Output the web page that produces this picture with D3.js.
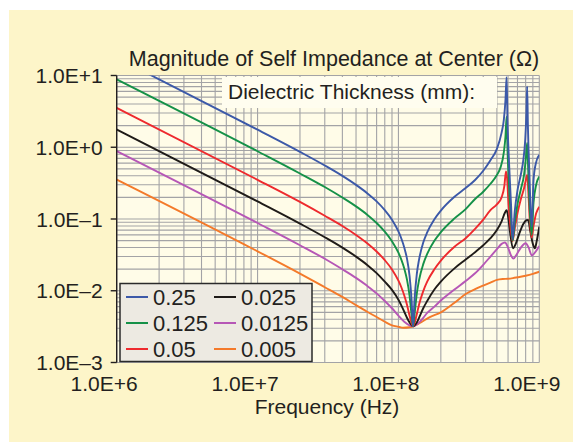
<!DOCTYPE html>
<html>
<head>
<meta charset="utf-8">
<script src="https://cdn.jsdelivr.net/npm/d3@7"></script>
<style>
  html, body { margin: 0; padding: 0; background: #ffffff; }
  svg { display: block; }
  text { font-family: "Liberation Sans", Arial, Helvetica, sans-serif; fill: #231f20; }
</style>
</head>
<body>
<div id="chart"></div>
<script>
// legend labels (dielectric thickness, mm)
const seriesNames = ["0.25", "0.125", "0.05", "0.025", "0.0125", "0.005"];

// frequency (Hz) / |Z| (ohm)
const f_025 = [1e6, 1e7, 2e7, 3e7, 4e7, 5e7, 6e7, 7e7, 8e7, 9e7, 1e8, 1.05e8, 1.1e8, 1.15e8, 1.2e8, 1.24e8, 1.27e8, 1.3e8, 1.35e8, 1.4e8, 1.5e8, 1.6e8, 1.8e8, 2e8, 2.5e8, 3e8, 3.5e8, 4e8, 4.5e8, 5e8, 5.4e8, 5.6e8, 5.75e8, 5.86e8, 5.95e8, 6.1e8, 6.3e8, 6.46e8, 6.7e8, 7.0e8, 7.4e8, 7.7e8, 7.95e8, 8.1e8, 8.2e8, 8.3e8, 8.5e8, 8.82e8, 9.1e8, 9.5e8, 1e9];
const z_025 = [17.7, 1.76, 0.863, 0.557, 0.399, 0.299, 0.229, 0.176, 0.133, 0.098, 0.067, 0.053, 0.040, 0.028, 0.016, 0.0074, 0.0032, 0.0073, 0.017, 0.027, 0.047, 0.065, 0.099, 0.131, 0.204, 0.27, 0.35, 0.47, 0.66, 0.95, 1.6, 2.4, 4.5, 9.5, 2.2, 0.6, 0.16, 0.052, 0.13, 0.25, 0.42, 0.66, 1.3, 3.0, 7.0, 2.0, 0.45, 0.078, 0.35, 0.62, 0.78];

const f_0125 = [1e6, 1e7, 2e7, 3e7, 4e7, 5e7, 6e7, 7e7, 8e7, 9e7, 1e8, 1.05e8, 1.1e8, 1.15e8, 1.2e8, 1.24e8, 1.27e8, 1.3e8, 1.35e8, 1.4e8, 1.5e8, 1.6e8, 1.8e8, 2e8, 2.5e8, 3e8, 3.5e8, 4e8, 4.5e8, 5e8, 5.3e8, 5.6e8, 5.75e8, 5.86e8, 5.95e8, 6.1e8, 6.3e8, 6.46e8, 6.7e8, 7.0e8, 7.4e8, 7.8e8, 8.05e8, 8.2e8, 8.35e8, 8.55e8, 8.82e8, 9.1e8, 9.5e8, 1e9];
const z_0125 = [8.85, 0.88, 0.431, 0.279, 0.199, 0.150, 0.115, 0.088, 0.0667, 0.049, 0.0339, 0.0269, 0.0204, 0.0143, 0.0085, 0.0046, 0.0032, 0.0046, 0.0091, 0.014, 0.0235, 0.0327, 0.0497, 0.0656, 0.102, 0.137, 0.19, 0.24, 0.31, 0.41, 0.52, 0.85, 1.4, 2.67, 0.9, 0.28, 0.1, 0.05, 0.09, 0.16, 0.26, 0.42, 0.75, 1.15, 0.45, 0.14, 0.06, 0.17, 0.3, 0.39];

const f_005 = [1e6, 1e7, 2e7, 3e7, 4e7, 5e7, 6e7, 7e7, 8e7, 9e7, 1e8, 1.05e8, 1.1e8, 1.15e8, 1.2e8, 1.27e8, 1.35e8, 1.4e8, 1.5e8, 1.6e8, 1.8e8, 2e8, 2.5e8, 3e8, 3.5e8, 4e8, 4.5e8, 5e8, 5.4e8, 5.65e8, 5.8e8, 5.9e8, 6.05e8, 6.25e8, 6.46e8, 6.7e8, 7.0e8, 7.4e8, 7.8e8, 8.05e8, 8.2e8, 8.35e8, 8.55e8, 8.82e8, 9.1e8, 9.5e8, 1e9];
const z_005 = [3.54, 0.352, 0.173, 0.111, 0.0798, 0.0598, 0.0458, 0.0352, 0.0267, 0.0198, 0.0138, 0.0111, 0.0086, 0.0064, 0.0045, 0.0032, 0.0047, 0.0064, 0.0099, 0.0134, 0.0199, 0.0263, 0.041, 0.054, 0.073, 0.098, 0.133, 0.16, 0.2, 0.29, 0.46, 0.38, 0.16, 0.075, 0.049, 0.075, 0.12, 0.19, 0.27, 0.36, 0.41, 0.25, 0.1, 0.055, 0.08, 0.12, 0.148];

const f_0025 = [1e6, 1e7, 2e7, 3e7, 4e7, 5e7, 6e7, 7e7, 8e7, 9e7, 1e8, 1.05e8, 1.1e8, 1.15e8, 1.2e8, 1.27e8, 1.35e8, 1.4e8, 1.5e8, 1.6e8, 1.8e8, 2e8, 2.5e8, 3e8, 3.5e8, 4e8, 4.5e8, 5e8, 5.4e8, 5.7e8, 5.86e8, 6.0e8, 6.2e8, 6.5e8, 6.8e8, 7.2e8, 7.7e8, 8.1e8, 8.35e8, 8.6e8, 9.0e8, 9.3e8, 9.6e8, 1e9];
const z_0025 = [1.77, 0.176, 0.0863, 0.0557, 0.0399, 0.0299, 0.0229, 0.0176, 0.0134, 0.0103, 0.0075, 0.0062, 0.0051, 0.0042, 0.0036, 0.0032, 0.0036, 0.0042, 0.0057, 0.0072, 0.0104, 0.0134, 0.0205, 0.0272, 0.0345, 0.043, 0.054, 0.07, 0.093, 0.122, 0.133, 0.11, 0.065, 0.039, 0.045, 0.062, 0.085, 0.096, 0.097, 0.07, 0.045, 0.039, 0.05, 0.078];

const f_00125 = [1e6, 1e7, 2e7, 3e7, 4e7, 5e7, 6e7, 7e7, 8e7, 9e7, 1e8, 1.1e8, 1.2e8, 1.27e8, 1.4e8, 1.5e8, 1.6e8, 1.8e8, 2e8, 2.5e8, 3e8, 3.5e8, 4e8, 4.5e8, 5e8, 5.4e8, 5.7e8, 6.0e8, 6.3e8, 6.55e8, 6.9e8, 7.4e8, 8.0e8, 8.4e8, 8.85e8, 9.3e8, 1e9];
const z_00125 = [0.885, 0.088, 0.0431, 0.0279, 0.0199, 0.0151, 0.0117, 0.0092, 0.0072, 0.0057, 0.0045, 0.0037, 0.0033, 0.0032, 0.0036, 0.0042, 0.0049, 0.006, 0.0073, 0.0104, 0.0137, 0.0175, 0.023, 0.03, 0.038, 0.045, 0.047, 0.04, 0.031, 0.028, 0.032, 0.04, 0.046, 0.04, 0.031, 0.034, 0.042];

const f_0005 = [1e6, 1e7, 2e7, 3e7, 4e7, 5e7, 6e7, 7e7, 8e7, 9e7, 1e8, 1.08e8, 1.2e8, 1.27e8, 1.4e8, 1.67e8, 2e8, 2.5e8, 3e8, 3.5e8, 4e8, 4.5e8, 5e8, 5.5e8, 6e8, 6.5e8, 7e8, 8e8, 9e8, 1e9];
const z_0005 = [0.354, 0.0354, 0.0173, 0.0112, 0.0082, 0.0063, 0.0051, 0.0043, 0.0037, 0.0033, 0.00315, 0.00305, 0.0031, 0.0032, 0.0035, 0.0043, 0.005, 0.0068, 0.009, 0.0105, 0.0118, 0.013, 0.0142, 0.0146, 0.0147, 0.015, 0.0154, 0.0162, 0.0172, 0.0184];

const seriesF = [f_025, f_0125, f_005, f_0025, f_00125, f_0005];
const seriesZ = [z_025, z_0125, z_005, z_0025, z_00125, z_0005];

const yTickValues = [1e-3, 1e-2, 1e-1, 1e0, 1e1];
const yTickLabels = ["1.0E\u20133", "1.0E\u20132", "1.0E\u20131", "1.0E+0", "1.0E+1"];
const xTickValues = [1e6, 1e7, 1e8, 1e9];
const xTickLabels = ["1.0E+6", "1.0E+7", "1.0E+8", "1.0E+9"];

const colors = ["#3c59a8", "#159148", "#ee2a2e", "#1f1b18", "#b657b6", "#f47a2a"];

const W = 573, H = 442;
const plot = { left: 116.7, right: 539.3, top: 75.5, bottom: 362.5 };

const svg = d3.select("#chart").append("svg")
    .attr("width", W)
    .attr("height", H);

// yellow panel
svg.append("rect")
    .attr("x", 9).attr("y", 10)
    .attr("width", W - 9).attr("height", H - 10)
    .attr("fill", "#fdf5c9");

const x = d3.scaleLog().domain([1e6, 1e9]).range([plot.left, plot.right]);
const y = d3.scaleLog().domain([1e-3, 1e1]).range([plot.bottom, plot.top]);

// plot background
svg.append("rect")
    .attr("x", plot.left).attr("y", plot.top)
    .attr("width", plot.right - plot.left).attr("height", plot.bottom - plot.top)
    .attr("fill", "#fffce8");

// grid
const grid = svg.append("g").attr("class", "grid");
grid.selectAll("line.v")
    .data(x.ticks())
    .join("line")
    .attr("class", "v")
    .attr("x1", d => x(d)).attr("x2", d => x(d))
    .attr("y1", plot.top).attr("y2", plot.bottom)
    .attr("stroke", "#a3a3a6").attr("stroke-width", 1.1);
grid.selectAll("line.h")
    .data(y.ticks())
    .join("line")
    .attr("class", "h")
    .attr("x1", plot.left).attr("x2", plot.right)
    .attr("y1", d => y(d)).attr("y2", d => y(d))
    .attr("stroke", "#a3a3a6").attr("stroke-width", 1.1);

// header box inside the plot
svg.append("rect")
    .attr("x", 222).attr("y", plot.top + 1.5)
    .attr("width", 275).attr("height", 31)
    .attr("fill", "#fffdef");
svg.append("text")
    .attr("x", 228).attr("y", 99)
    .style("font-size", "21px")
    .text("Dielectric Thickness (mm):");

// curves
svg.append("clipPath").attr("id", "clip")
    .append("rect")
    .attr("x", plot.left).attr("y", plot.top)
    .attr("width", plot.right - plot.left).attr("height", plot.bottom - plot.top);

const line = d3.line()
    .x(d => x(d[0]))
    .y(d => y(d[1]))
    .curve(d3.curveMonotoneX);

const curves = svg.append("g").attr("clip-path", "url(#clip)");
// draw thinnest first so the thick dielectric spikes sit on top
for (let i = seriesNames.length - 1; i >= 0; i--) {
    const pts = seriesF[i].map((f, j) => [f, seriesZ[i][j]]);
    curves.append("path")
        .attr("d", line(pts))
        .attr("fill", "none")
        .attr("stroke", colors[i])
        .attr("stroke-width", 1.9)
        .attr("stroke-linejoin", "round");
}

// left axis
svg.append("line")
    .attr("x1", plot.left).attr("x2", plot.left)
    .attr("y1", plot.top).attr("y2", plot.bottom)
    .attr("stroke", "#231f20").attr("stroke-width", 1.4);
svg.selectAll("line.ytick")
    .data(yTickValues)
    .join("line")
    .attr("class", "ytick")
    .attr("x1", plot.left - 6).attr("x2", plot.left)
    .attr("y1", d => y(d)).attr("y2", d => y(d))
    .attr("stroke", "#231f20").attr("stroke-width", 1.4);
svg.selectAll("text.ylab")
    .data(yTickValues)
    .join("text")
    .attr("class", "ylab")
    .attr("x", plot.left - 14)
    .attr("y", d => y(d) + 7.5)
    .attr("text-anchor", "end")
    .style("font-size", "21px")
    .text((d, i) => yTickLabels[i]);

svg.selectAll("text.xlab")
    .data(xTickValues)
    .join("text")
    .attr("class", "xlab")
    .attr("x", d => x(d) - 12.5)
    .attr("y", 391)
    .attr("text-anchor", "middle")
    .style("font-size", "21px")
    .text((d, i) => xTickLabels[i]);

svg.append("text")
    .attr("x", 327).attr("y", 414)
    .attr("text-anchor", "middle")
    .style("font-size", "21px")
    .text("Frequency (Hz)");

svg.append("text")
    .attr("x", 334).attr("y", 66)
    .attr("text-anchor", "middle")
    .style("font-size", "21.5px")
    .text("Magnitude of Self Impedance at Center (\u03a9)");

// legend
const legend = svg.append("g");
legend.append("rect")
    .attr("x", 120).attr("y", 283.5)
    .attr("width", 192).attr("height", 78)
    .attr("fill", "#edeae2")
    .attr("stroke", "#2a2a2a").attr("stroke-width", 1.5);
const rowY = [297, 323, 349];
const colX = [126, 214];
seriesNames.forEach((name, i) => {
    const col = Math.floor(i / 3), row = i % 3;
    legend.append("line")
        .attr("x1", colX[col]).attr("x2", colX[col] + 22)
        .attr("y1", rowY[row]).attr("y2", rowY[row])
        .attr("stroke", colors[i]).attr("stroke-width", 2);
    legend.append("text")
        .attr("x", colX[col] + 27).attr("y", rowY[row] + 8)
        .style("font-size", "22px")
        .text(name);
});
</script>
</body>
</html>
